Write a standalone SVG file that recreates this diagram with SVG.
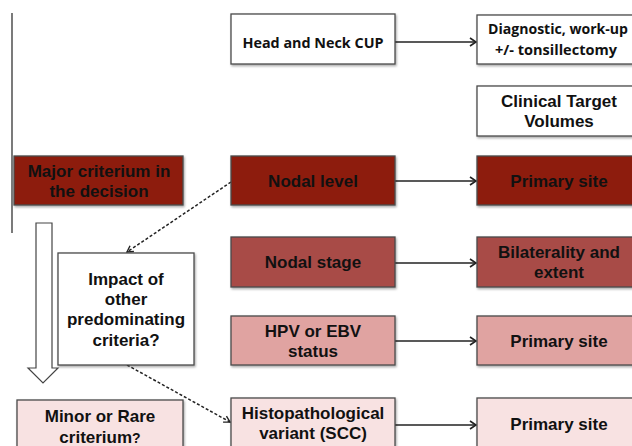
<svg xmlns="http://www.w3.org/2000/svg" width="632" height="446" viewBox="0 0 632 446">
<defs>
<style>
.box{stroke:#4a4a4a;stroke-width:1.3;filter:url(#sh)}
.t{font-family:"Liberation Sans",Arial,sans-serif;font-weight:bold;font-size:17px;fill:#111;text-anchor:middle}
.c{font-family:"Open Sans","Noto Sans",sans-serif;font-weight:bold;font-size:15px;fill:#111;text-anchor:middle}
.con{stroke:#222;stroke-width:1.6;fill:none}
.dash{stroke:#222;stroke-width:1.5;fill:none;stroke-dasharray:3,2}
</style>
<filter id="sh" x="-10%" y="-10%" width="130%" height="140%">
<feDropShadow dx="1" dy="1.5" stdDeviation="1" flood-color="#000" flood-opacity="0.35"/>
</filter>
<marker id="ah" markerWidth="10" markerHeight="10" refX="8" refY="5" orient="auto" markerUnits="userSpaceOnUse">
<path d="M2,1 L8,5 L2,9" fill="none" stroke="#222" stroke-width="1.6"/>
</marker>
<marker id="ahd" markerWidth="10" markerHeight="10" refX="8" refY="5" orient="auto" markerUnits="userSpaceOnUse">
<path d="M2,1.5 L8,5 L2,8.5" fill="none" stroke="#222" stroke-width="1.4"/>
</marker>
</defs>
<rect width="632" height="446" fill="#fff"/>
<line x1="12" y1="13" x2="12" y2="233" stroke="#222" stroke-width="1.2"/>

<g id="connectors">
<line class="con" x1="395" y1="42" x2="476" y2="42" marker-end="url(#ah)"/>
<line class="con" x1="395" y1="181" x2="476" y2="181" marker-end="url(#ah)"/>
<line class="con" x1="395" y1="263" x2="476" y2="263" marker-end="url(#ah)"/>
<line class="con" x1="395" y1="341" x2="476" y2="341" marker-end="url(#ah)"/>
<line class="con" x1="395" y1="425" x2="476" y2="425" marker-end="url(#ah)"/>
<line class="dash" x1="231" y1="182" x2="127" y2="252" marker-end="url(#ahd)"/>
<line class="dash" x1="127" y1="365" x2="230" y2="422" marker-end="url(#ahd)"/>
<polygon points="36,223 52,223 52,368 58,368 43,383 28,368 36,368" fill="#fff" stroke="#444" stroke-width="1.2"/>
</g>

<g id="cup"><rect class="box" x="231" y="14" width="164" height="50" fill="#fff" stroke="#111" stroke-width="2.2"/>
<text class="c" x="313" y="48" font-size="16.5" textLength="141" lengthAdjust="spacingAndGlyphs">Head and Neck CUP</text></g>
<g id="diag"><rect class="box" x="477" y="15" width="170" height="49" fill="#fff"/>
<text class="c" x="558" y="34" textLength="140" lengthAdjust="spacingAndGlyphs">Diagnostic, work-up</text>
<text class="c" x="556" y="55" textLength="122" lengthAdjust="spacingAndGlyphs">+/- tonsillectomy</text></g>
<g id="ctv"><rect class="box" x="477" y="86" width="164" height="50" fill="#fff"/>
<text class="t" x="559" y="107">Clinical Target</text><text class="t" x="559" y="127">Volumes</text></g>

<g id="major"><rect class="box" x="14" y="156" width="169" height="49" fill="#8d1f0d"/>
<text class="t" x="99" y="177">Major criterium in</text><text class="t" x="99" y="197">the decision</text></g>
<g id="nodal-level"><rect class="box" x="231" y="156" width="164" height="49" fill="#8d1f0d"/>
<text class="t" x="313" y="187">Nodal level</text></g>
<g id="ps1"><rect class="box" x="477" y="156" width="164" height="49" fill="#8d1f0d"/>
<text class="t" x="559" y="187">Primary site</text></g>

<g id="nodal-stage"><rect class="box" x="231" y="237" width="164" height="50" fill="#a84b46"/>
<text class="t" x="313" y="268">Nodal stage</text></g>
<g id="bilat"><rect class="box" x="477" y="237" width="164" height="50" fill="#a84b46"/>
<text class="t" x="559" y="258">Bilaterality and</text><text class="t" x="559" y="278">extent</text></g>

<g id="impact"><rect class="box" x="58" y="253" width="136" height="112" fill="#fff"/>
<text class="t" x="126" y="285">Impact of</text><text class="t" x="126" y="305">other</text>
<text class="t" x="126" y="325">predominating</text><text class="t" x="126" y="346">criteria?</text></g>

<g id="hpv"><rect class="box" x="231" y="316" width="164" height="49" fill="#e0a3a1"/>
<text class="t" x="313" y="337">HPV or EBV</text><text class="t" x="313" y="357">status</text></g>
<g id="ps2"><rect class="box" x="477" y="316" width="164" height="49" fill="#e0a3a1"/>
<text class="t" x="559" y="347">Primary site</text></g>

<g id="minor"><rect class="box" x="17" y="400" width="166" height="60" fill="#f8e2e2"/>
<text class="t" x="100" y="422">Minor or Rare</text><text class="t" x="100" y="443">criterium<tspan font-size="14">?</tspan></text></g>
<g id="histo"><rect class="box" x="231" y="398" width="164" height="60" fill="#f8e2e2"/>
<text class="t" x="313" y="419">Histopathological</text><text class="t" x="313" y="439">variant (SCC)</text></g>
<g id="ps3"><rect class="box" x="477" y="398" width="164" height="60" fill="#f8e2e2"/>
<text class="t" x="559" y="430">Primary site</text></g>
</svg>
